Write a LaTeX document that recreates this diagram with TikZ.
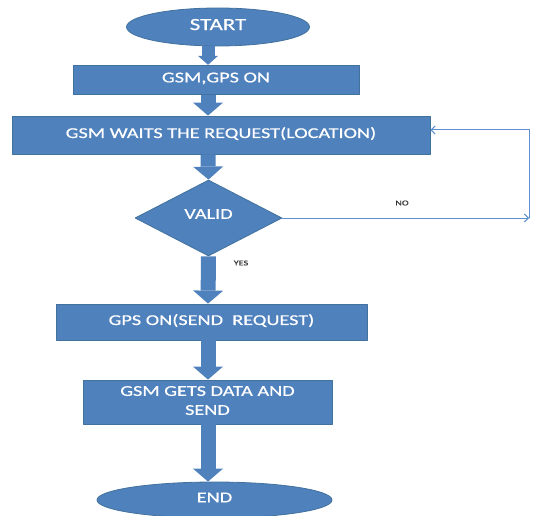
\documentclass[tikz,border=0pt]{standalone}
\usepackage{fontspec}
\setmainfont{Carlito}
\newfontfamily\boxfont[FakeStretch=1.35,FakeBold=0.6]{Carlito}
\usepackage{tikz}
\usetikzlibrary{arrows.meta}
\usetikzlibrary{shapes.geometric}
\definecolor{boxblue}{HTML}{4F81BD}
\definecolor{boxedge}{HTML}{41719C}
\definecolor{linkblue}{HTML}{5B8FD3}

\begin{document}
\begin{tikzpicture}[line cap=round,line join=round,x=1pt,y=-1pt,
boxnode/.style={draw=boxedge,fill=boxblue,text=white,inner sep=0pt,
line width=0.8pt,text depth=5pt,font=\boxfont\fontsize{15}{19}\selectfont},
procbox/.style={boxnode,rectangle},
termnode/.style={boxnode,ellipse},
fatarrow/.style={draw=boxblue,line width=15pt,line cap=butt,
-{Triangle[width=30pt,length=13pt,line width=0pt]}},
loopline/.style={draw=linkblue,line width=1pt,
-{Straight Barb[length=4pt,width=8pt]}},
lbl/.style={text=black!80,inner sep=0pt,font=\boxfont\fontsize{7.5}{9}\selectfont}]
\useasboundingbox (0,0) rectangle (533,516);
% Các khối của lưu đồ
\node[termnode,minimum width=183,minimum height=38,
font=\boxfont\fontsize{17}{20}\selectfont] (start) at (218,27) {START};
\node[procbox,minimum width=286,minimum height=29.5] (gsmon) at (216,80) {GSM,GPS ON};
\node[procbox,minimum width=418,minimum height=38] (wait) at (221,135)
{GSM WAITS THE REQUEST(LOCATION)};
\node[boxnode,diamond,aspect=1.93,minimum width=147,minimum height=76,
text depth=8pt] (valid) at (208.5,218) {VALID};
\node[procbox,minimum width=311,minimum height=36] (gpson) at (211.5,322)
{GPS ON(SEND\ \ REQUEST)};
\node[procbox,minimum width=249,minimum height=44,align=center,
text depth=3pt] (gets) at (207.5,402) {GSM GETS DATA AND\\SEND};
\node[termnode,minimum width=235,minimum height=36] (end) at (214.5,500) {END};
% Các mũi tên lớn
\coordinate (col) at (208,0);
\draw[fatarrow,line width=13pt,-{Triangle[width=20pt,length=9pt,line width=0pt]}]
(start.south -| col) -- (gsmon.north -| col);
\draw[fatarrow] (gsmon.south -| col) -- (wait.north -| col);
\draw[fatarrow] (wait.south -| col) -- (valid.north);
\draw[fatarrow] (valid.south) -- (gpson.north -| col);
\draw[fatarrow] (gpson.south -| col) -- (gets.north -| col);
\draw[fatarrow] (gets.south -| col) -- (end.north -| col);
% Nhánh NO quay lại
\coordinate (noend) at (529,218);
\coordinate (noup) at (529,130);
\draw[loopline] (valid.east) -- (noend);
\draw[loopline] (noend) -- (noup) -- (wait.east |- noup);
\node[lbl] (no) at (402,203) {NO};
\node[lbl] (yes) at (241,263) {YES};
\end{tikzpicture}
\end{document}
